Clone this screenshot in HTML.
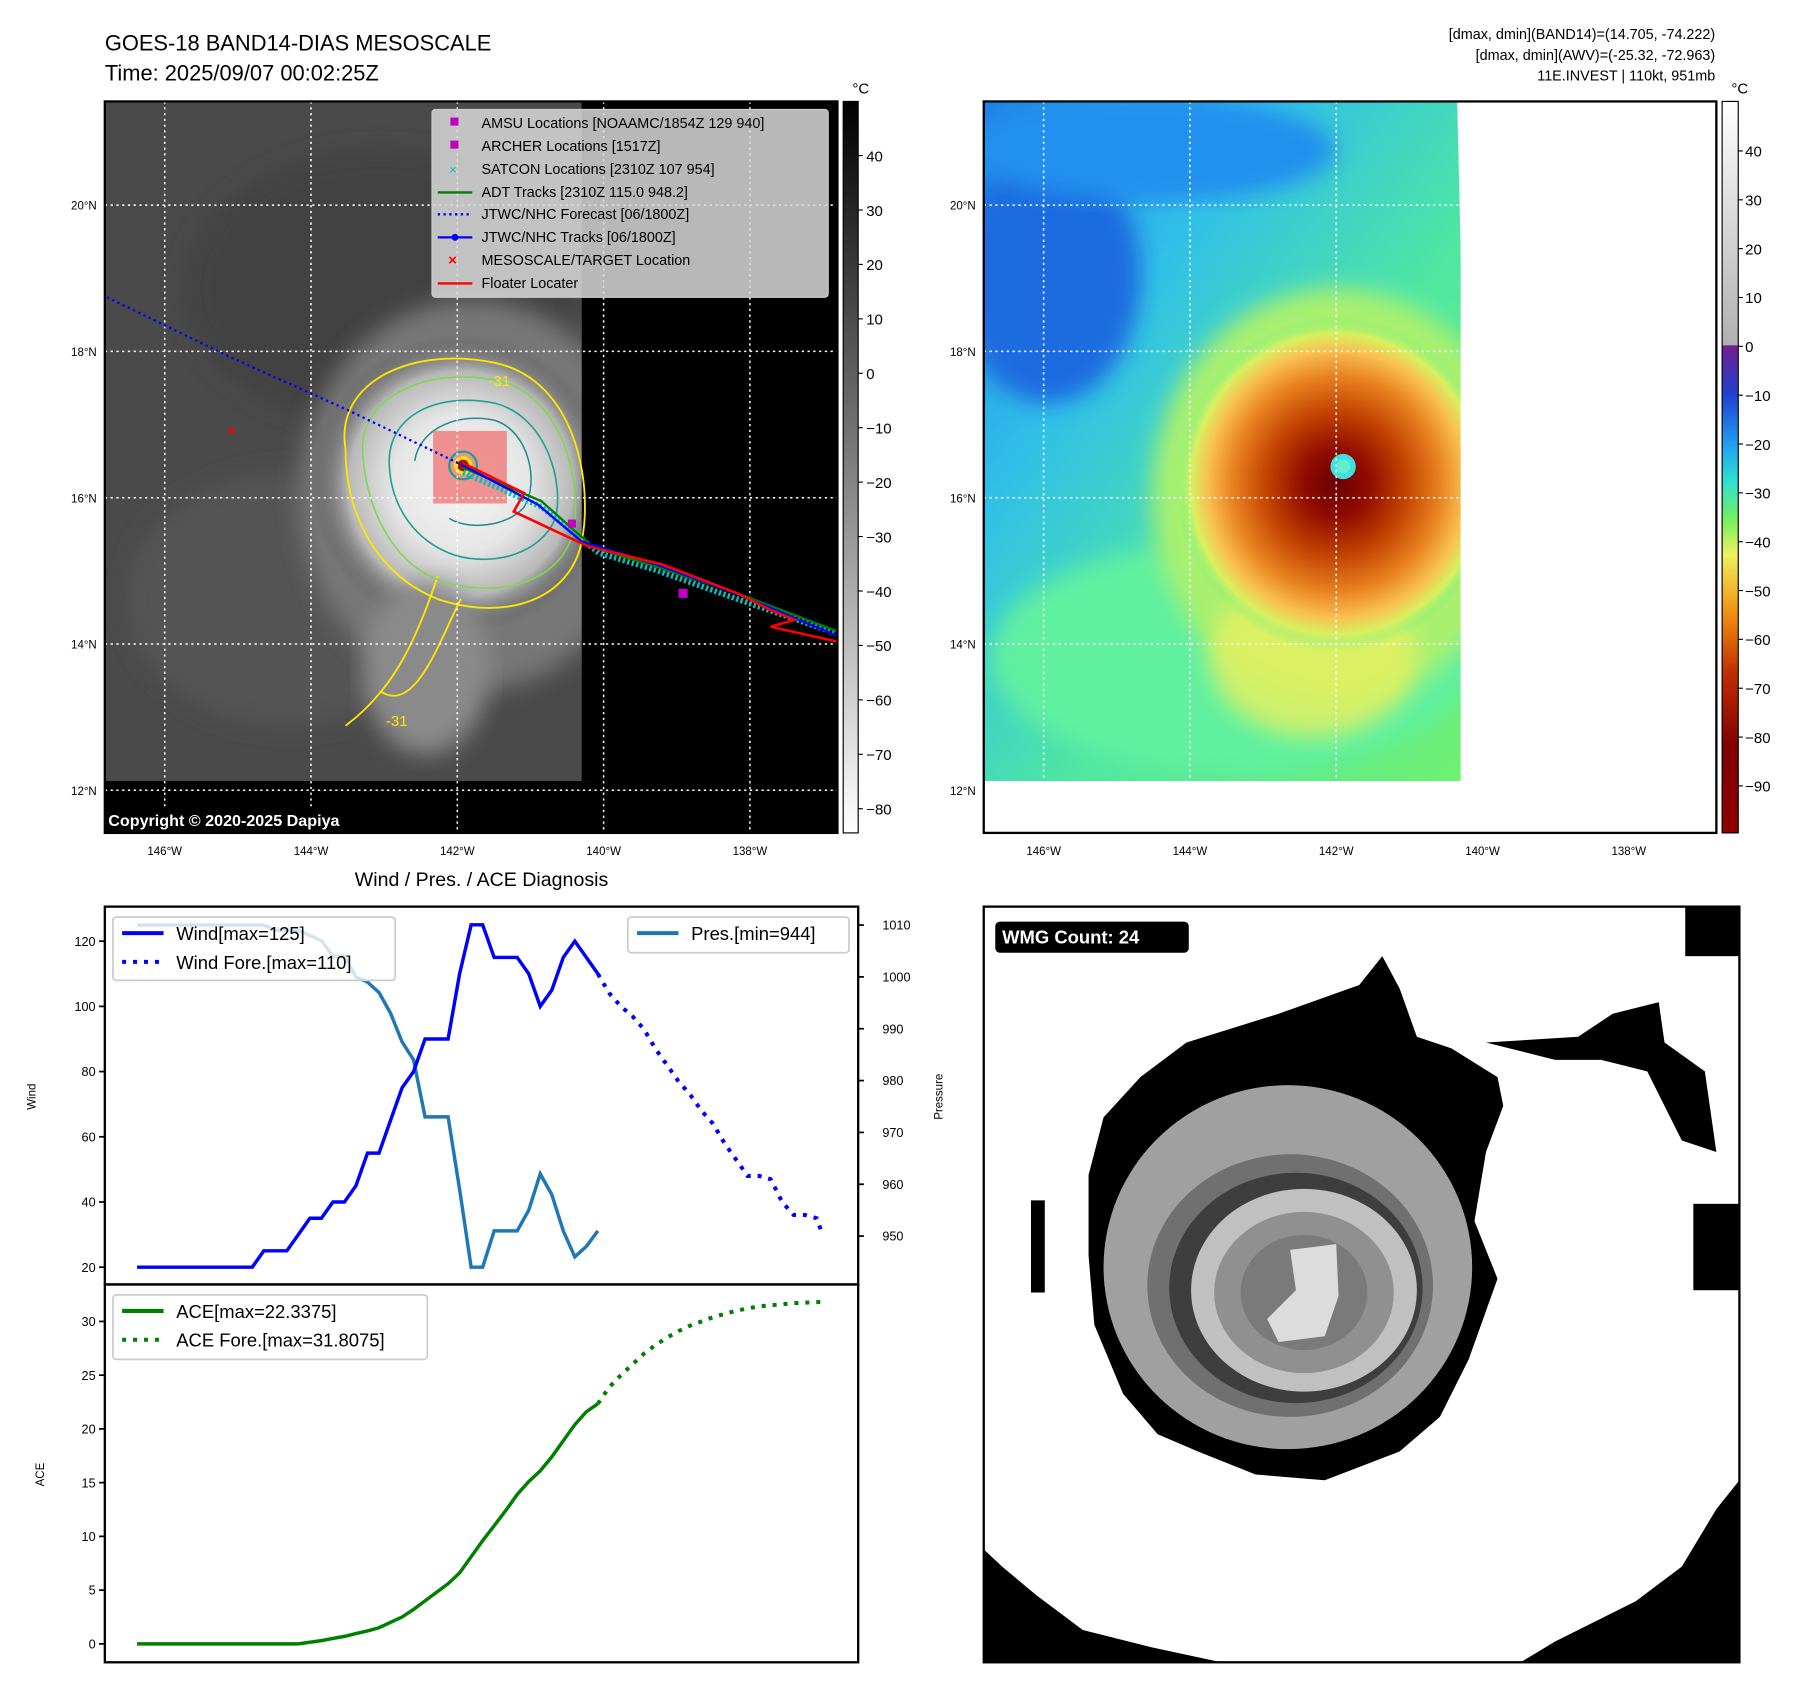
<!DOCTYPE html>
<html><head><meta charset="utf-8">
<style>
html,body{margin:0;padding:0;background:#fff;}
svg{display:block;font-family:"Liberation Sans","DejaVu Sans",sans-serif;}
</style></head>
<body>
<svg id="fig" width="1797" height="1690" viewBox="0 0 1560 1467" xmlns="http://www.w3.org/2000/svg">
<defs>
  <radialGradient id="stormL" cx="0.5" cy="0.5" r="0.5">
    <stop offset="0" stop-color="#f4f4f4"/><stop offset="0.45" stop-color="#e6e6e6"/>
    <stop offset="0.75" stop-color="#b8b8b8"/><stop offset="1" stop-color="#4a4a4a" stop-opacity="0"/>
  </radialGradient>
  <radialGradient id="stormR" cx="0.5" cy="0.5" r="0.5">
    <stop offset="0" stop-color="#6a0000"/><stop offset="0.2" stop-color="#900c00"/>
    <stop offset="0.42" stop-color="#c04000"/><stop offset="0.64" stop-color="#e88020"/>
    <stop offset="0.8" stop-color="#f8c050"/><stop offset="0.9" stop-color="#d8f060"/>
    <stop offset="1" stop-color="#70f080" stop-opacity="0"/>
  </radialGradient>
  <linearGradient id="bgR" x1="0" y1="0" x2="1" y2="1">
    <stop offset="0" stop-color="#2080e8"/><stop offset="0.3" stop-color="#30c0e8"/>
    <stop offset="0.6" stop-color="#50e8a0"/><stop offset="1" stop-color="#70f070"/>
  </linearGradient>
  <linearGradient id="cb1" x1="0" y1="0" x2="0" y2="1">
    <stop offset="0" stop-color="#000"/><stop offset="1" stop-color="#fff"/>
  </linearGradient>
  <linearGradient id="cb2" x1="0" y1="0" x2="0" y2="1">
    <stop offset="0" stop-color="#ffffff"/><stop offset="0.333" stop-color="#b0b0b0"/>
    <stop offset="0.334" stop-color="#702090"/><stop offset="0.4" stop-color="#2040d0"/>
    <stop offset="0.47" stop-color="#20a0f0"/><stop offset="0.52" stop-color="#30e0d0"/>
    <stop offset="0.57" stop-color="#70f060"/><stop offset="0.62" stop-color="#f0f060"/>
    <stop offset="0.7" stop-color="#f09010"/><stop offset="0.78" stop-color="#c03000"/>
    <stop offset="0.88" stop-color="#800000"/><stop offset="1" stop-color="#900000"/>
  </linearGradient>
  <filter id="blur4"><feGaussianBlur stdDeviation="4"/></filter>
  <filter id="blur10"><feGaussianBlur stdDeviation="10"/></filter>
  <clipPath id="clipL"><rect x="91" y="88" width="636" height="635"/></clipPath>
  <clipPath id="clipR"><rect x="854" y="88" width="636" height="635"/></clipPath>
  <clipPath id="clipW"><rect x="854" y="787" width="656" height="656"/></clipPath>
</defs>

<text x="91" y="44" font-size="19">GOES-18 BAND14-DIAS MESOSCALE</text>
<text x="91" y="70" font-size="19">Time: 2025/09/07 00:02:25Z</text>
<g font-size="12.5" text-anchor="end">
  <text x="1489" y="34">[dmax, dmin](BAND14)=(14.705, -74.222)</text>
  <text x="1489" y="52">[dmax, dmin](AWV)=(-25.32, -72.963)</text>
  <text x="1489" y="70">11E.INVEST | 110kt, 951mb</text>
</g>

<!-- LEFT MAP -->
<g clip-path="url(#clipL)">
  <rect x="91" y="88" width="636" height="635" fill="#000"/>
  <polygon points="91,88 505,88 510,300 513,678 91,678" fill="#4a4a4a"/>
  <ellipse cx="330" cy="250" rx="170" ry="120" fill="#424242" filter="url(#blur10)"/>
  <ellipse cx="250" cy="520" rx="140" ry="110" fill="#555" filter="url(#blur10)"/>
  <ellipse cx="410" cy="430" rx="150" ry="170" fill="#777" filter="url(#blur10)"/>
  <ellipse cx="400" cy="420" rx="130" ry="130" fill="url(#stormL)"/>
  <ellipse cx="370" cy="580" rx="55" ry="75" fill="#8a8a8a" filter="url(#blur10)"/>
  <rect x="505" y="88" width="222" height="590" fill="#000"/>
  <path d="M300,390 C290,330 360,300 430,315 C500,330 515,420 505,470 C495,520 440,540 380,520 C330,500 300,450 300,390 Z" fill="none" stroke="#ffe600" stroke-width="1.6"/>
  <path d="M380,500 C360,560 340,600 300,630 M330,600 C360,620 380,560 400,520" fill="none" stroke="#ffe600" stroke-width="1.6"/>
  <path d="M315,395 C310,345 370,318 430,330 C490,342 505,420 498,460 C488,505 435,520 385,505 C340,490 318,440 315,395 Z" fill="none" stroke="#7ed850" stroke-width="1.4"/>
  <path d="M338,405 C335,360 380,340 430,350 C475,362 490,420 482,450 C470,480 430,492 395,482 C360,470 340,440 338,405 Z" fill="none" stroke="#20a090" stroke-width="1.4"/>
  <path d="M360,400 C365,370 400,358 430,365 C460,375 468,420 455,440 C440,458 405,460 390,450" fill="none" stroke="#1a8c8c" stroke-width="1.3"/>
  <rect x="376" y="374" width="64" height="63" fill="#f08080" opacity="0.85"/>
  <circle cx="402" cy="404" r="12" fill="none" stroke="#20a090" stroke-width="2"/>
  <circle cx="402" cy="404" r="8" fill="#ffe600"/>
  <circle cx="402" cy="404" r="5" fill="#a01010"/>
  <g stroke="#fff" stroke-width="1.3" stroke-dasharray="2,3">
    <line x1="143" y1="88" x2="143" y2="723"/><line x1="270" y1="88" x2="270" y2="723"/>
    <line x1="397" y1="88" x2="397" y2="723"/><line x1="524" y1="88" x2="524" y2="723"/>
    <line x1="651" y1="88" x2="651" y2="723"/>
    <line x1="91" y1="178" x2="727" y2="178"/><line x1="91" y1="305" x2="727" y2="305"/>
    <line x1="91" y1="432" x2="727" y2="432"/><line x1="91" y1="559" x2="727" y2="559"/>
    <line x1="91" y1="686" x2="727" y2="686"/>
  </g>
  <polyline points="93,258 200,310 300,355 402,404" fill="none" stroke="#0000ff" stroke-width="2" stroke-dasharray="2,3"/>
  <polyline points="402,410 470,440 520,480 570,495 640,520 727,550" fill="none" stroke="#00c0c0" stroke-width="5" stroke-dasharray="2,2"/>
  <polyline points="402,406 470,435 515,475 570,492 640,515 727,548" fill="none" stroke="#008000" stroke-width="2"/>
  <polyline points="402,404 467,438 505,470 570,490 636,514 727,552" fill="none" stroke="#0000ff" stroke-width="2"/>
  <polyline points="402,402 455,428 446,444 480,460 510,474 575,490 640,515 670,530 690,538 669,544 727,557" fill="none" stroke="#ff0000" stroke-width="2.2"/>
  <rect x="589" y="511" width="8" height="8" fill="#c000c0"/>
  <rect x="493" y="451" width="7" height="7" fill="#c000c0"/>
  <text x="197" y="378" fill="#ff0000" font-size="13" font-weight="bold">×</text>
  <text x="424" y="335" fill="#ffe600" font-size="13">-31</text>
  <text x="335" y="630" fill="#ffe600" font-size="13">-31</text>
  <rect x="91" y="700" width="280" height="23" fill="#000"/>
  <text x="94" y="717" fill="#fff" font-size="14" font-weight="bold">Copyright © 2020-2025 Dapiya</text>
</g>
<rect x="91" y="88" width="636" height="635" fill="none" stroke="#000" stroke-width="2"/>
<g font-size="12.5">
  <rect x="375" y="95" width="344" height="163" rx="3" fill="#d8d8d8" fill-opacity="0.85" stroke="#ccc"/>
  <rect x="391" y="102" width="7" height="7" fill="#c000c0"/><text x="418" y="111">AMSU Locations [NOAAMC/1854Z 129 940]</text>
  <rect x="391" y="122" width="7" height="7" fill="#c000c0"/><text x="418" y="131">ARCHER Locations [1517Z]</text>
  <text x="390" y="151" fill="#00c0c0" font-size="11">×</text><text x="418" y="151">SATCON Locations [2310Z 107 954]</text>
  <line x1="380" y1="167" x2="410" y2="167" stroke="#008000" stroke-width="2"/><text x="418" y="171">ADT Tracks [2310Z 115.0 948.2]</text>
  <line x1="380" y1="186" x2="410" y2="186" stroke="#0000ff" stroke-width="2" stroke-dasharray="2,3"/><text x="418" y="190">JTWC/NHC Forecast [06/1800Z]</text>
  <line x1="380" y1="206" x2="410" y2="206" stroke="#0000ff" stroke-width="2"/><circle cx="395" cy="206" r="3" fill="#0000ff"/><text x="418" y="210">JTWC/NHC Tracks [06/1800Z]</text>
  <text x="389" y="230" fill="#ff0000" font-weight="bold" font-size="13">×</text><text x="418" y="230">MESOSCALE/TARGET Location</text>
  <line x1="380" y1="246" x2="410" y2="246" stroke="#ff0000" stroke-width="2"/><text x="418" y="250">Floater Locater</text>
</g>
<rect x="732" y="88" width="13" height="635" fill="url(#cb1)" stroke="#000" stroke-width="1"/>
<text x="740" y="81" font-size="13">°C</text>
<g id="cb1ticks" font-size="13"></g>

<!-- RIGHT MAP -->
<g clip-path="url(#clipR)">
  <rect x="854" y="88" width="636" height="635" fill="#fff"/>
  <polygon points="854,88 1265,88 1270,300 1277,678 854,678" fill="url(#bgR)"/>
  <ellipse cx="910" cy="240" rx="80" ry="110" fill="#1c6ce0" filter="url(#blur10)"/>
  <ellipse cx="1000" cy="130" rx="160" ry="45" fill="#2090ee" filter="url(#blur10)"/>
  <ellipse cx="1070" cy="570" rx="210" ry="100" fill="#60f0a0" filter="url(#blur10)"/>
  <ellipse cx="1160" cy="430" rx="160" ry="180" fill="#a8f070" filter="url(#blur10)"/>
  <ellipse cx="1140" cy="570" rx="90" ry="70" fill="#e8f060" filter="url(#blur10)" opacity="0.8"/>
  <ellipse cx="1160" cy="420" rx="140" ry="145" fill="url(#stormR)"/>
  <circle cx="1166" cy="405" r="11" fill="#40e0e0"/>
  <circle cx="1166" cy="405" r="6" fill="#60f0d0"/>
  <rect x="1268" y="88" width="222" height="635" fill="#fff"/>
  <rect x="854" y="678" width="636" height="45" fill="#fff"/>
  <g stroke="#fff" stroke-width="1.3" stroke-dasharray="2,3">
    <line x1="906" y1="88" x2="906" y2="723"/><line x1="1033" y1="88" x2="1033" y2="723"/>
    <line x1="1160" y1="88" x2="1160" y2="723"/><line x1="1287" y1="88" x2="1287" y2="723"/>
    <line x1="1414" y1="88" x2="1414" y2="723"/>
    <line x1="854" y1="178" x2="1490" y2="178"/><line x1="854" y1="305" x2="1490" y2="305"/>
    <line x1="854" y1="432" x2="1490" y2="432"/><line x1="854" y1="559" x2="1490" y2="559"/>
    <line x1="854" y1="686" x2="1490" y2="686"/>
  </g>
</g>
<rect x="854" y="88" width="636" height="635" fill="none" stroke="#000" stroke-width="2"/>
<rect x="1495" y="88" width="14" height="635" fill="url(#cb2)" stroke="#000" stroke-width="1"/>
<text x="1503" y="81" font-size="13">°C</text>
<g id="cb2ticks" font-size="13"></g>
<g id="mapticks" font-size="10"></g>

<text x="418" y="769" font-size="17" text-anchor="middle">Wind / Pres. / ACE Diagnosis</text>
<g id="chart"></g>

<!-- WMG panel -->
<g clip-path="url(#clipW)">
  <rect x="854" y="787" width="656" height="656" fill="#fff"/>
  <polygon points="945,1020 958,970 990,935 1030,905 1110,880 1180,855 1200,830 1215,858 1230,900 1260,910 1300,935 1305,960 1290,1000 1280,1060 1300,1110 1275,1180 1250,1230 1215,1260 1150,1285 1090,1280 1040,1260 1005,1245 975,1210 950,1150 945,1090" fill="#000"/>
  <polygon points="1290,905 1370,900 1400,880 1440,870 1445,905 1480,930 1490,1000 1460,990 1430,930 1390,920 1350,920" fill="#000"/>
  <rect x="1463" y="787" width="47" height="43" fill="#000"/>
  <rect x="1470" y="1045" width="40" height="75" fill="#000"/>
  <rect x="895" y="1042" width="12" height="80" fill="#000"/>
  <ellipse cx="1118" cy="1100" rx="160" ry="158" fill="#a0a0a0"/>
  <ellipse cx="1120" cy="1116" rx="124" ry="114" fill="#707070"/>
  <ellipse cx="1125" cy="1118" rx="110" ry="100" fill="#3e3e3e"/>
  <ellipse cx="1132" cy="1120" rx="98" ry="88" fill="#c0c0c0"/>
  <ellipse cx="1132" cy="1122" rx="78" ry="70" fill="#909090"/>
  <ellipse cx="1132" cy="1122" rx="55" ry="50" fill="#7a7a7a"/>
  <polygon points="1120,1085 1160,1080 1162,1125 1150,1160 1110,1165 1100,1145 1125,1120" fill="#dcdcdc"/>
  <polygon points="854,1345 870,1360 900,1385 940,1415 1000,1430 1060,1443 854,1443" fill="#000"/>
  <polygon points="1510,1285 1490,1310 1460,1360 1420,1390 1380,1410 1350,1425 1320,1443 1510,1443" fill="#000"/>
  <rect x="864" y="800" width="168" height="27" rx="4" fill="#000"/>
  <text x="870" y="819" fill="#fff" font-size="16" font-weight="bold">WMG Count: 24</text>
</g>
<rect x="854" y="787" width="656" height="656" fill="none" stroke="#000" stroke-width="2"/>
</svg>

<script>
const obsTime = [0,1,2,3,4,5,6,7,8,9,10,11,12,13,14,15,16,17,18,19,20,21,22,23,24,25,26,27,28,29,30,31,32,33,34,35,36,37,38,39,40];
const windObs = [20,20,20,20,20,20,20,20,20,20,20,25,25,25,30,35,35,40,40,45,55,55,65,75,80,90,90,90,110,125,125,115,115,115,110,100,105,115,120,115,110];
const presObs = [1010,1010,1010,1010,1010,1010,1010,1010,1010,1010,1010,1010,1009,1009,1009,1008,1007,1004,1004,1000,999,997,993,987.5,984,973,973,973,959,944,944,951,951,951,955,962,958,951,946,948,951];
const aceObs = [0,0,0,0,0,0,0,0,0,0,0,0,0,0,0,0.15,0.3,0.5,0.7,0.95,1.2,1.5,2,2.5,3.2,4,4.8,5.6,6.6,8.1,9.6,11,12.4,13.9,15.1,16.1,17.4,18.9,20.4,21.6,22.34];
const foreTime = [40,41,42,43,44,45,46,47,48,49,50,51,52,53,54,55,56,57,58,59,59.5];
const windFore = [110,104,100,97,93,87,82,77,73,68,64,58,53,48,48,47,40,36,36,35,30];
const aceFore = [22.34,23.9,25,26,27,27.8,28.5,29.1,29.6,30,30.4,30.7,31,31.2,31.4,31.5,31.6,31.7,31.75,31.8,31.81];
const windTicks = [20,40,60,80,100,120];
const presTicks = [950,960,970,980,990,1000,1010];
const aceTicks = [0,5,10,15,20,25,30];
const cb1Ticks = [40,30,20,10,0,-10,-20,-30,-40,-50,-60,-70,-80];
const cb2Ticks = [40,30,20,10,0,-10,-20,-30,-40,-50,-60,-70,-80,-90];
const lonTicks = [-146,-144,-142,-140,-138];
const latTicks = [20,18,16,14,12];

const xT = t => 119 + t*10;
const yW = v => 1100 - (v-20)*2.83;
const yP = p => 1073 - (p-950)*4.5;
const yA = a => 1427 - a*9.33;
const yCb1 = v => 135 + (40-v)*4.725;
const yCb2 = v => 131 + (40-v)*4.24;
const xLonL = l => 143 + (l+146)*63.5;
const xLonR = l => 906 + (l+146)*63.5;
const yLat = l => 178 + (20-l)*63.5;

const NS='http://www.w3.org/2000/svg';
function mk(tag, attrs, parent){const e=document.createElementNS(NS,tag);for(const k in attrs)e.setAttribute(k,attrs[k]);parent.appendChild(e);return e;}
const chart=document.getElementById('chart');

let f1=mk('rect',{x:91,y:787,width:654,height:328,fill:'none',stroke:'#000','stroke-width':2},chart);


let f2=mk('rect',{x:91,y:1115,width:654,height:328,fill:'none',stroke:'#000','stroke-width':2},chart);



function pts(ts,vs,fy){return ts.map((t,i)=>xT(t).toFixed(1)+','+fy(vs[i]).toFixed(1)).join(' ');}
let pl;
pl=mk('polyline',{points:pts(obsTime,presObs,yP),fill:'none',stroke:'#1f77b4','stroke-width':3},chart);


pl=mk('polyline',{points:pts(obsTime,windObs,yW),fill:'none',stroke:'#0000ff','stroke-width':3},chart);


pl=mk('polyline',{points:pts(foreTime,windFore,yW),fill:'none',stroke:'#0000ff','stroke-width':3.5,'stroke-dasharray':'3.5,6'},chart);


pl=mk('polyline',{points:pts(obsTime,aceObs,yA),fill:'none',stroke:'#008000','stroke-width':3},chart);


pl=mk('polyline',{points:pts(foreTime,aceFore,yA),fill:'none',stroke:'#008000','stroke-width':3.5,'stroke-dasharray':'3.5,6'},chart);



function leftTicks(vals,fy,name){vals.forEach(v=>{const y=fy(v);
  mk('line',{x1:86,y1:y,x2:91,y2:y,stroke:'#000','stroke-width':1.5},chart);
  const t=mk('text',{x:83,y:y+4,'font-size':11,'text-anchor':'end'},chart);t.textContent=v;
  
  });}
leftTicks(windTicks,yW,'wind-tick-label');
leftTicks(aceTicks,yA,'ace-tick-label');
presTicks.forEach(v=>{const y=yP(v);
  mk('line',{x1:745,y1:y,x2:750,y2:y,stroke:'#000','stroke-width':1.5},chart);
  const t=mk('text',{x:766,y:y+4,'font-size':11},chart);t.textContent=v;
  
  });
let at=mk('text',{x:31,y:952,'font-size':10,'text-anchor':'middle',transform:'rotate(-90 31 952)'},chart);at.textContent='Wind';


at=mk('text',{x:818,y:952,'font-size':10,'text-anchor':'middle',transform:'rotate(-90 818 952)'},chart);at.textContent='Pressure';


at=mk('text',{x:38,y:1280,'font-size':10,'text-anchor':'middle',transform:'rotate(-90 38 1280)'},chart);at.textContent='ACE';



function legend(x,y,w,h,items,name){const g=mk('g',{},chart);
  
  
  mk('rect',{x:x,y:y,width:w,height:h,rx:3,fill:'#fff','fill-opacity':0.8,stroke:'#ccc','stroke-width':1.5},g);
  items.forEach((it,i)=>{const yy=y+14+i*25;
    mk('line',{x1:x+8,y1:yy,x2:x+44,y2:yy,stroke:it[1],'stroke-width':3.5,'stroke-dasharray':it[2]?'3.5,6':'none'},g);
    const t=mk('text',{x:x+55,y:yy+6,'font-size':16},g);t.textContent=it[0];});}
legend(98,796,245,55,[['Wind[max=125]','#0000ff',false],['Wind Fore.[max=110]','#0000ff',true]],'wind-legend');
legend(545,796,192,31,[['Pres.[min=944]','#1f77b4',false]],'pressure-legend');
legend(98,1124,273,56,[['ACE[max=22.3375]','#008000',false],['ACE Fore.[max=31.8075]','#008000',true]],'ace-legend');

const c1=document.getElementById('cb1ticks');
cb1Ticks.forEach(v=>{const y=yCb1(v);
  mk('line',{x1:745,y1:y,x2:749,y2:y,stroke:'#000'},c1);
  const t=mk('text',{x:752,y:y+5},c1);t.textContent=v<0?'\u2212'+(-v):v;
  
  });
const c2=document.getElementById('cb2ticks');
cb2Ticks.forEach(v=>{const y=yCb2(v);
  mk('line',{x1:1509,y1:y,x2:1513,y2:y,stroke:'#000'},c2);
  const t=mk('text',{x:1515,y:y+5},c2);t.textContent=v<0?'\u2212'+(-v):v;
  
  });

const mt=document.getElementById('mapticks');
lonTicks.forEach(l=>{[xLonL(l),xLonR(l)].forEach(x=>{
  const t=mk('text',{x:x,y:742,'text-anchor':'middle'},mt);t.textContent=(-l)+'°W';
  
  });});
latTicks.forEach(l=>{[84,847].forEach(x=>{
  const t=mk('text',{x:x,y:yLat(l)+4,'text-anchor':'end'},mt);t.textContent=l+'°N';
  
  });});
</script>
</body></html>
